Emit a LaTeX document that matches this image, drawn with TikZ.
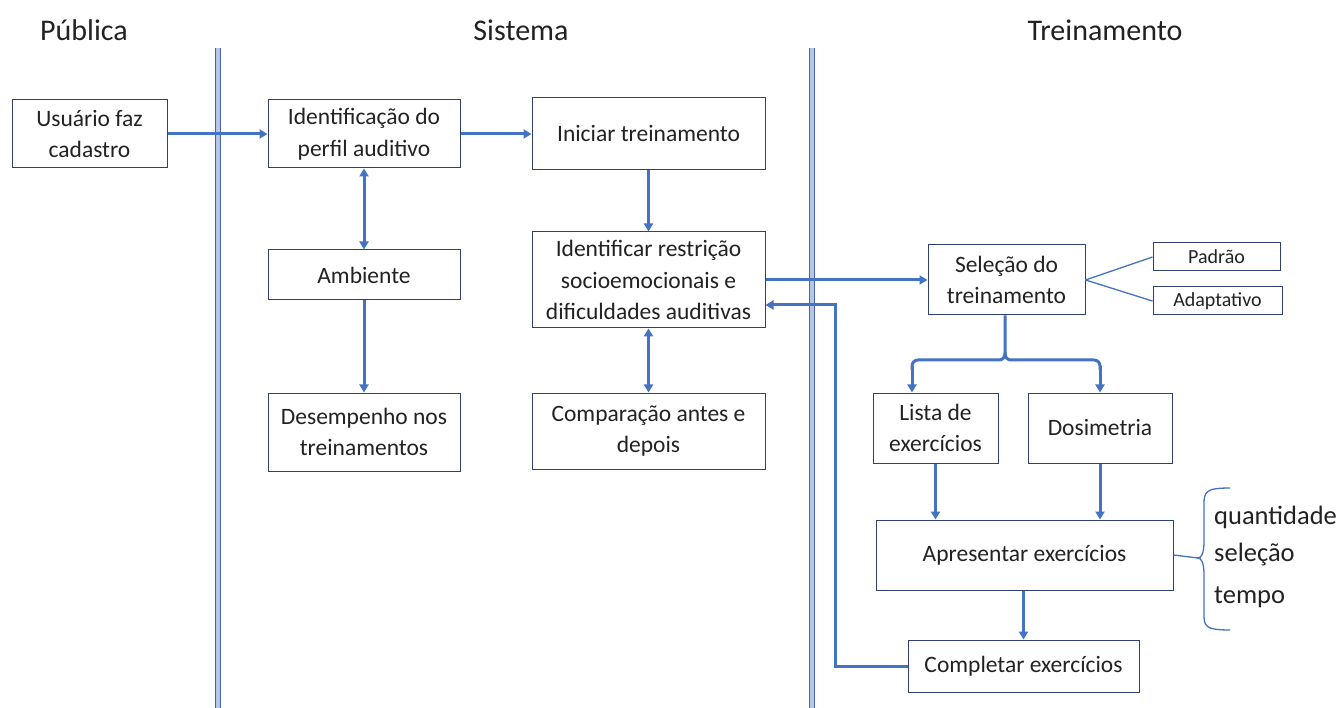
\documentclass[tikz,border=0pt]{standalone}
\usepackage{fontspec}
\setmainfont{Carlito}
\usetikzlibrary{arrows.meta,calc}
\definecolor{flow}{HTML}{4472C4}
\definecolor{boxline}{HTML}{2F3F6F}
\definecolor{lane}{HTML}{4A62A8}
\definecolor{lanefill}{HTML}{B4C7E7}
\definecolor{txt}{HTML}{222222}
\begin{document}
\begin{tikzpicture}[x=1pt,y=-1pt,
  box/.style={draw=boxline,line width=1pt,fill=white,align=center,text=txt,font=\fontsize{23.5}{31.5}\selectfont,inner sep=0pt},
  smallbox/.style={draw=boxline,line width=1pt,fill=white,align=center,text=txt,font=\fontsize{20}{24}\selectfont,inner sep=0pt},
  hdr/.style={text=txt,font=\fontsize{30}{34}\selectfont},
  arr/.style={draw=flow,line width=3pt,-{Triangle[length=8pt,width=9pt]}},
  darr/.style={draw=flow,line width=3pt,{Triangle[length=8pt,width=9pt]}-{Triangle[length=8pt,width=9pt]}},
  ln/.style={draw=flow,line width=3pt},
  thinline/.style={draw=flow,line width=1.3pt},
  lanel/.style={draw=lane,line width=1.2pt,double=lanefill,double distance=3.5pt}]
\useasboundingbox (0,0) rectangle (1341,708);
\fill[white] (0,0) rectangle (1341,708);
% headers
\node[hdr] (hpub) at (84,30) {Pública};
\node[hdr] (hsis) at (521,30) {Sistema};
\node[hdr] (htre) at (1105,30) {Treinamento};
% lanes
\coordinate (l1t) at (218,48); \coordinate (l1b) at (218,708);
\coordinate (l2t) at (812,48); \coordinate (l2b) at (812,708);
\draw[lanel] (l1t) -- (l1b);
\draw[lanel] (l2t) -- (l2b);
% boxes
\node[box,minimum width=155pt,minimum height=68pt] (cad) at (89.5,134) {Usuário faz\\cadastro};
\node[box,minimum width=192pt,minimum height=68pt] (perf) at (364,134) {Identificação do\\perfil auditivo};
\node[box,minimum width=233pt,minimum height=72pt] (ini) at (648.5,134) {Iniciar treinamento};
\node[box,minimum width=192pt,minimum height=50pt] (amb) at (364,275) {Ambiente};
\node[box,minimum width=192pt,minimum height=78pt] (des) at (364,432) {Desempenho nos\\treinamentos};
\node[box,minimum width=233pt,minimum height=96pt] (idr) at (648.5,280) {Identificar restrição\\socioemocionais e\\dificuldades auditivas};
\node[box,minimum width=233pt,minimum height=76pt] (comp) at (648.5,431) {Comparação antes e\\depois};
\node[box,minimum width=157pt,minimum height=70pt] (sel) at (1006.5,280) {Seleção do\\treinamento};
\node[smallbox,minimum width=127pt,minimum height=28pt] (pad) at (1216.5,257) {Padrão};
\node[smallbox,minimum width=129pt,minimum height=28pt] (ada) at (1217.5,301) {Adaptativo};
\node[box,minimum width=125pt,minimum height=70pt] (lista) at (935.5,428) {Lista de\\exercícios};
\node[box,minimum width=144pt,minimum height=70pt] (dos) at (1100,428) {Dosimetria};
\node[box,minimum width=297pt,minimum height=70pt] (apr) at (1024.5,555) {Apresentar exercícios};
\node[box,minimum width=231pt,minimum height=52pt] (cpl) at (1023.5,666) {Completar exercícios};
% connectors
\draw[arr] (cad.east) -- (perf.west);
\draw[arr] (perf.east) -- (ini.west);
\draw[arr] (ini.south) -- (idr.north);
\draw[darr] (perf.south) -- (amb.north);
\draw[arr] (amb.south) -- (des.north);
\draw[darr] (idr.south) -- (comp.north);
\draw[arr] (idr.east |- sel.west) -- (sel.west);
\coordinate (ret) at (835,305);
\draw[arr] (cpl.west) -| (ret) -- (ret -| idr.east);
\draw[thinline] (sel.east) -- (pad.west);
\draw[thinline] (sel.east) -- (ada.west);
% split from selection
\coordinate (sp) at (1005,352);
\draw[ln,rounded corners=6pt] (sel.south -| sp) -- (sp) -- (1005,360) -- (912,360) -- (912,370);
\draw[ln,rounded corners=6pt] (1005,352) -- (1005,360) -- (1100,360) -- (1100,370);
\draw[arr] (912,366) -- (lista.north -| 912,0);
\draw[arr] (1100,366) -- (dos.north);
\draw[arr] (lista.south) -- (apr.north -| lista.south);
\draw[arr] (dos.south) -- (apr.north -| dos.south);
\draw[arr] (apr.south -| cpl.north) -- (cpl.north);
% brace
\coordinate (bt) at (1198,558);
\draw[thinline] (apr.east) -- (bt);
\draw[thinline] (1230,488) .. controls (1205,488) and (1204,492) .. (1204,505) -- (1204,541) .. controls (1204,554) and (1201,558) .. (bt) .. controls (1201,558) and (1204,562) .. (1204,575) -- (1204,614) .. controls (1204,626) and (1205,630) .. (1230,630);
\node[anchor=west,text=txt,font=\fontsize{26.5}{30}\selectfont,inner sep=0pt] (q) at (1214,517) {quantidade};
\node[anchor=west,text=txt,font=\fontsize{26.5}{30}\selectfont,inner sep=0pt] (s) at (1214,555) {seleção};
\node[anchor=west,text=txt,font=\fontsize{26.5}{30}\selectfont,inner sep=0pt] (t) at (1214,597) {tempo};
\end{tikzpicture}
\end{document}
